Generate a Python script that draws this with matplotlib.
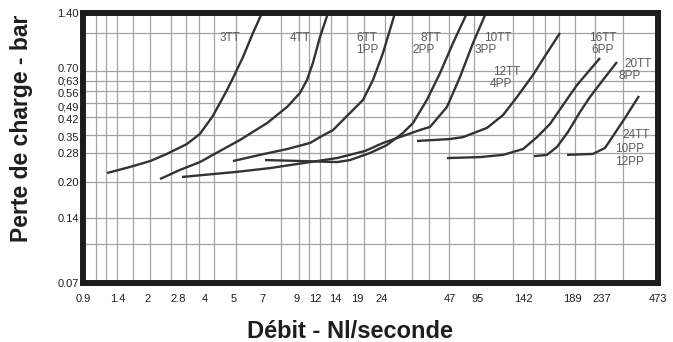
import numpy as np
import matplotlib
matplotlib.use("Agg")
import matplotlib.pyplot as plt
from matplotlib.ticker import FixedLocator
from matplotlib.transforms import ScaledTranslation

plt.rcParams['font.family'] = ['Liberation Sans', 'DejaVu Sans']

# printed scale of the chart (irregular, log-like) - value -> offset along axis
x_scale_vals = [0.9, 1.4, 2, 2.8, 4, 5, 7, 9, 12, 14, 19, 24, 47, 95, 142, 189, 237, 473]
x_scale_pos = [0, 35, 65, 95, 122, 151, 179, 214, 232, 252, 274, 299, 367, 395, 440, 489, 519, 575]
x_tick_labels = ['0.9', '1.4', '2', '2.8', '4', '5', '7', '9', '12', '14', '19', '24',
                 '47', '95', '142', '189', '237', '473']
# printed vertical grid lines (offset along x axis)
x_grid_pos = [13, 23, 34, 50, 67, 88, 103, 116, 131, 153, 179, 198, 216, 226, 237, 248,
              264, 281, 302, 329, 346, 366, 391, 430, 440, 450, 462, 476, 492, 512, 540]

y_scale_vals = [0.07, 0.10, 0.14, 0.20, 0.28, 0.35, 0.42, 0.49, 0.56, 0.63, 0.70, 1.0, 1.40]
y_scale_pos = [0, 39, 65, 101, 130, 148, 166, 180, 192, 202, 212, 250, 270]
y_ticks = [0.07, 0.14, 0.20, 0.28, 0.35, 0.42, 0.49, 0.56, 0.63, 0.70, 1.40]
y_tick_labels = ['0.07', '0.14', '0.20', '0.28', '0.35', '0.42', '0;49', '0.56', '0;63', '0.70', '1.40']
# small vertical nudges of the printed labels (points)
y_label_nudge = [0, 0, 0, 0, -1.5, -1.5, -2.2, -1.5, 0, 2.2, 0]
y_minor = [0.10, 1.0]

# debit (Nl/s) and perte de charge (bar) for each curve
x_3tt = [1.22, 1.61, 2.05, 2.47, 3.15, 3.74, 4.25, 4.74, 4.96, 5.57, 6.28, 7.0]
y_3tt = [0.222, 0.238, 0.255, 0.277, 0.313, 0.354, 0.425, 0.567, 0.650, 0.798, 1.0, 1.40]

x_4tt = [2.29, 2.87, 3.74, 4.25, 5.37, 7.26, 8.38, 9.44, 10.56, 11.6, 12.47, 13.27]
y_4tt = [0.207, 0.230, 0.252, 0.274, 0.329, 0.395, 0.469, 0.548, 0.637, 0.755, 0.963, 1.40]

x_6tt = [4.96, 6.83, 8.38, 11.08, 12.67, 13.79, 17.24, 20.1, 22.06, 24.24, 27.29]
y_6tt = [0.255, 0.274, 0.294, 0.317, 0.346, 0.368, 0.439, 0.507, 0.637, 0.829, 1.40]

x_8tt = [7.15, 9.91, 14.39, 17.24, 21.45, 25.2, 29.5, 32.6, 37.4, 42.6, 50.7, 72.1]
y_8tt = [0.258, 0.255, 0.252, 0.258, 0.28, 0.309, 0.357, 0.395, 0.507, 0.685, 0.910, 1.40]

x_10tt = [2.95, 5.18, 7.41, 9.91, 14.39, 20.48, 24.24, 34.9, 38.6, 45.6, 60.4, 83.8, 102]
y_10tt = [0.212, 0.225, 0.235, 0.249, 0.264, 0.287, 0.317, 0.368, 0.380, 0.469, 0.657, 0.910, 1.40]

x_12tt = [33.9, 47.0, 65.2, 102.9, 118.8, 134.6, 150.5, 163.3, 176.2]
y_12tt = [0.325, 0.333, 0.341, 0.376, 0.429, 0.524, 0.671, 0.829, 1.0]

x_16tt = [45.6, 96.7, 118.8, 142, 154.1, 166.2, 179.3, 196.3, 233.5]
y_16tt = [0.264, 0.267, 0.274, 0.294, 0.341, 0.391, 0.479, 0.601, 0.791]

x_20tt = [151.4, 163.3, 173.2, 184.6, 200.8, 216.5, 239.9, 285.2]
y_20tt = [0.270, 0.274, 0.302, 0.361, 0.444, 0.524, 0.637, 0.762]

x_24tt = [183.6, 221.4, 245.9, 278.2, 314.8, 374.2]
y_24tt = [0.274, 0.277, 0.298, 0.357, 0.416, 0.530]

curves = [(x_3tt, y_3tt), (x_4tt, y_4tt), (x_6tt, y_6tt), (x_8tt, y_8tt), (x_10tt, y_10tt),
          (x_12tt, y_12tt), (x_16tt, y_16tt), (x_20tt, y_20tt), (x_24tt, y_24tt)]

# curve labels, placed in axes fraction
curve_labels = [
    ('3TT', 0.256, 0.907), ('4TT', 0.377, 0.907),
    ('6TT', 0.494, 0.907), ('1PP', 0.494, 0.863),
    ('8TT', 0.605, 0.907), ('2PP', 0.593, 0.863),
    ('10TT', 0.722, 0.907), ('3PP', 0.701, 0.863),
    ('12TT', 0.737, 0.781), ('4PP', 0.727, 0.737),
    ('16TT', 0.904, 0.907), ('6PP', 0.904, 0.863),
    ('20TT', 0.965, 0.811), ('8PP', 0.950, 0.767),
    ('24TT', 0.962, 0.548), ('10PP', 0.951, 0.496), ('12PP', 0.951, 0.448),
]


def make_scale(vals, pos):
    lv = np.log(np.asarray(vals, float))
    p = np.asarray(pos, float)
    s0 = (p[1] - p[0]) / (lv[1] - lv[0])
    s1 = (p[-1] - p[-2]) / (lv[-1] - lv[-2])

    def fwd(v):
        x = np.log(np.clip(np.asarray(v, float), 1e-9, None))
        out = np.interp(x, lv, p)
        out = np.where(x < lv[0], p[0] + (x - lv[0]) * s0, out)
        out = np.where(x > lv[-1], p[-1] + (x - lv[-1]) * s1, out)
        return out

    def inv(q):
        q = np.asarray(q, float)
        out = np.interp(q, p, lv)
        out = np.where(q < p[0], lv[0] + (q - p[0]) / s0, out)
        out = np.where(q > p[-1], lv[-1] + (q - p[-1]) / s1, out)
        return np.exp(out)

    return fwd, inv


xf, xi = make_scale(x_scale_vals, x_scale_pos)
yf, yi = make_scale(y_scale_vals, y_scale_pos)

fig = plt.figure(figsize=(6.73, 3.42), dpi=100)
ax = fig.add_axes([83 / 673, 1 - 283 / 342, 575 / 673, 270 / 342])
ax.set_xscale('function', functions=(xf, xi))
ax.set_yscale('function', functions=(yf, yi))
ax.set_xlim(x_scale_vals[0], x_scale_vals[-1])
ax.set_ylim(y_scale_vals[0], y_scale_vals[-1])

ax.xaxis.set_major_locator(FixedLocator(x_scale_vals))
ax.set_xticklabels(x_tick_labels)
ax.xaxis.set_minor_locator(FixedLocator(xi(np.array(x_grid_pos, float))))
ax.yaxis.set_major_locator(FixedLocator(y_ticks))
ax.set_yticklabels(y_tick_labels)
ax.yaxis.set_minor_locator(FixedLocator(y_minor))

ax.set_axisbelow(True)
ax.grid(which='minor', axis='x', color='#a3a3a3', lw=0.9)
ax.grid(which='both', axis='y', color='#a3a3a3', lw=0.9)
ax.tick_params(which='both', length=0, labelsize=8, colors='#1e1e1e')
ax.tick_params(axis='x', pad=8)
ax.tick_params(axis='y', pad=3)

for lab, dy in zip(ax.get_yticklabels(), y_label_nudge):
    lab.set_transform(lab.get_transform() + ScaledTranslation(0, dy / 72, fig.dpi_scale_trans))

for s in ax.spines.values():
    s.set_linewidth(4.3)
    s.set_color('#1c1c1c')

for xs, ys in curves:
    ax.plot(xs, ys, color='#333333', lw=1.7, solid_capstyle='butt', solid_joinstyle='round')

for txt, fx, fy in curve_labels:
    ax.text(fx, fy, txt, transform=ax.transAxes, ha='center', va='center',
            fontsize=8.5, color='#5a5a5a')

fig.text(350 / 673, 1 - 331 / 342, 'Débit - Nl/seconde', ha='center', va='center',
         fontsize=17, fontweight='bold', color='#1e1e1e')
fig.text(22 / 673, 1 - 128 / 342, 'Perte de charge - bar', ha='center', va='center',
         rotation=90, fontsize=16.5, fontweight='bold', color='#1e1e1e')

fig.savefig('out.png', dpi=100)
